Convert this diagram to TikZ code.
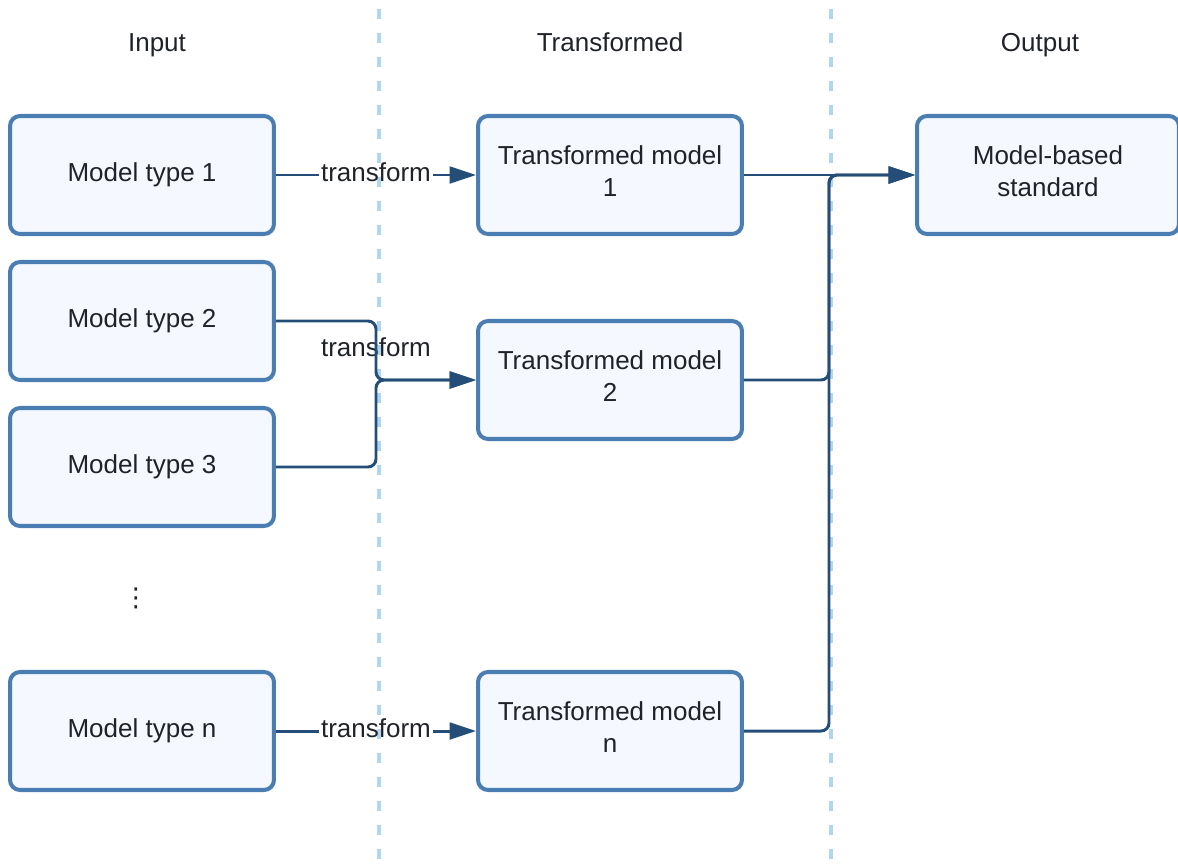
\documentclass[tikz,border=0pt]{standalone}
\usepackage{fontspec}
\setmainfont{Liberation Sans}
\newfontfamily\symfont{DejaVu Sans}
\usetikzlibrary{arrows.meta}
\definecolor{boxline}{RGB}{74,126,179}
\definecolor{boxfill}{RGB}{245,249,255}
\definecolor{conline}{RGB}{36,78,119}
\definecolor{sepline}{RGB}{178,212,239}
\definecolor{txt}{RGB}{31,35,40}
\begin{document}
\begin{tikzpicture}[
		x=0.02cm, y=-0.02cm,
		font=\fontsize{14.8}{18.2}\selectfont, text=txt,
		mbox/.style={ draw=boxline, fill=boxfill, line width=2.3pt, rounded corners=0.2cm,
			minimum width=5.28cm, minimum height=2.36cm, align=center, inner sep=2pt, },
		tbox/.style={ mbox, text depth=0.16cm, },
		head/.style={ anchor=base, },
		lbl/.style={ inner sep=1pt, },
		conn/.style={ draw=conline, line width=1.7pt, rounded corners=0.16cm,
			-{Triangle[length=15pt,width=9.5pt]}, },
		sep/.style={ draw=sepline, line width=2.2pt, dash pattern=on 0.2cm off 0.28cm, },
		]
		\useasboundingbox (0,0) rectangle (1178,866);
		
		% column separators
		\draw[sep] (379,9) -- (379,866);
		\draw[sep] (831,9) -- (831,866);
		
		\node[head](hin) at (157,51){Input};
		\node[head](htr) at (610,51){Transformed};
		\node[head](hout) at (1040,51){Output};
		
		\node[mbox](in1) at (142,175){Model type 1};
		\node[mbox](in2) at (142,321){Model type 2};
		\node[mbox](in3) at (142,467){Model type 3};
		\node(dots) at (136,598){\symfont ⋮};
		\node[mbox](inn) at (142,731){Model type n};
		
		\node[tbox](tr1) at (610,175){Transformed model\\1};
		\node[tbox](tr2) at (610,380){Transformed model\\2};
		\node[tbox](trn) at (610,731){Transformed model\\n};
		
		\node[tbox,minimum width=5.24cm](out) at (1048,175){Model-based\\standard};
		
		\node[lbl](lbl1) at (376,172){transform};
		\node[lbl](lbl2) at (376,347){transform};
		\node[lbl](lbln) at (376,728){transform};
		
		\coordinate(j1) at (376,380);
		\coordinate(j2) at (829,175);
		
		\draw[conn] (in1) -- (lbl1.west|-in1) (lbl1.east|-in1) -- (tr1);
		\draw[conn] (in2) -| (j1) -- (tr2);
		\draw[conn] (in3) -| (j1) -- (tr2);
		\draw[conn] (inn) -- (lbln.west|-inn) (lbln.east|-inn) -- (trn);
		
		\draw[conn] (tr1) -- (out);
		\draw[conn] (tr2) -| (j2) -- (out);
		\draw[conn] (trn) -| (j2) -- (out);
	\end{tikzpicture}
\end{document}
